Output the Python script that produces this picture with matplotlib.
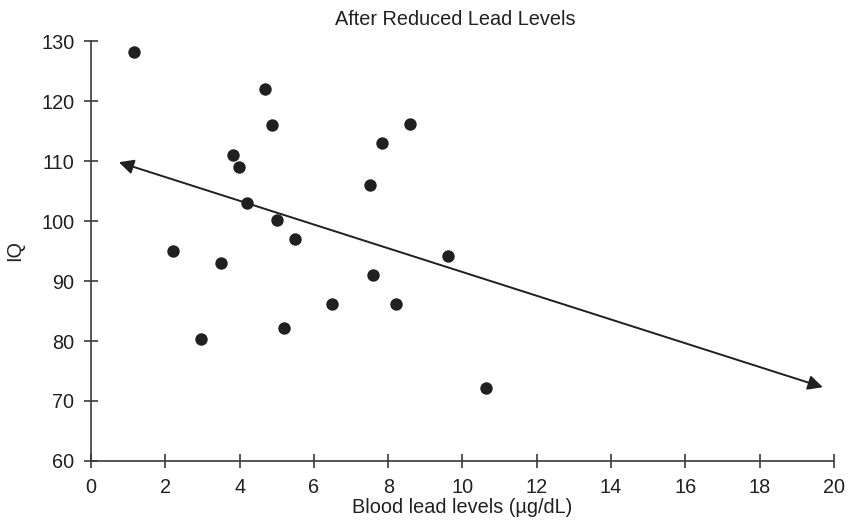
import matplotlib
matplotlib.use("Agg")
import matplotlib.pyplot as plt

plt.rcParams['font.family'] = ['Liberation Sans', 'DejaVu Sans']

# Blood lead level (µg/dL) and IQ for each child
lead = [1.15, 2.2, 2.97, 3.5, 3.82, 3.98, 4.2, 4.68, 4.87, 5.0, 5.2, 5.5,
        6.5, 7.5, 7.6, 7.83, 8.2, 8.6, 9.62, 10.62]
iq = [128.2, 95, 80.3, 93, 111, 109, 103, 122, 116, 100.2, 82.2, 97,
      86.1, 106, 91, 113, 86.1, 116.1, 94.1, 72.2]

# Trend arrow end points (x, IQ)
trend_start = (0.75, 109.8)
trend_end = (19.7, 72.3)

xticks = list(range(0, 21, 2))
yticks = list(range(60, 131, 10))

ink = '#231f20'

fig = plt.figure(figsize=(8.53, 5.30), dpi=100)
ax = fig.add_axes([0.1067, 0.1302, 0.871, 0.7924])

ax.scatter(lead, iq, s=80, color=ink, zorder=3, linewidths=0)

ax.annotate('', xy=trend_end, xytext=trend_start,
            arrowprops=dict(arrowstyle='<|-|>', color=ink, lw=1.4,
                            mutation_scale=22, shrinkA=0, shrinkB=0))

ax.set_xlim(0, 20)
ax.set_ylim(60, 130)
ax.set_xticks(xticks)
ax.set_yticks(yticks)
for side in ('top', 'right'):
    ax.spines[side].set_visible(False)
for side in ('left', 'bottom'):
    ax.spines[side].set_color('#3a3a3a')
    ax.spines[side].set_linewidth(1.2)
ax.tick_params(direction='inout', length=10, width=1.2, color='#3a3a3a',
               labelsize=14.3, labelcolor=ink, pad=7)

ax.set_xlabel('Blood lead levels (\u00b5g/dL)', fontsize=14.3, color=ink, labelpad=1)
ax.set_ylabel('IQ', fontsize=14.3, color=ink, labelpad=12)
fig.text(0.534, 0.963, 'After Reduced Lead Levels', ha='center', va='center',
         fontsize=14.3, color=ink)

fig.savefig('out.png', dpi=100)
